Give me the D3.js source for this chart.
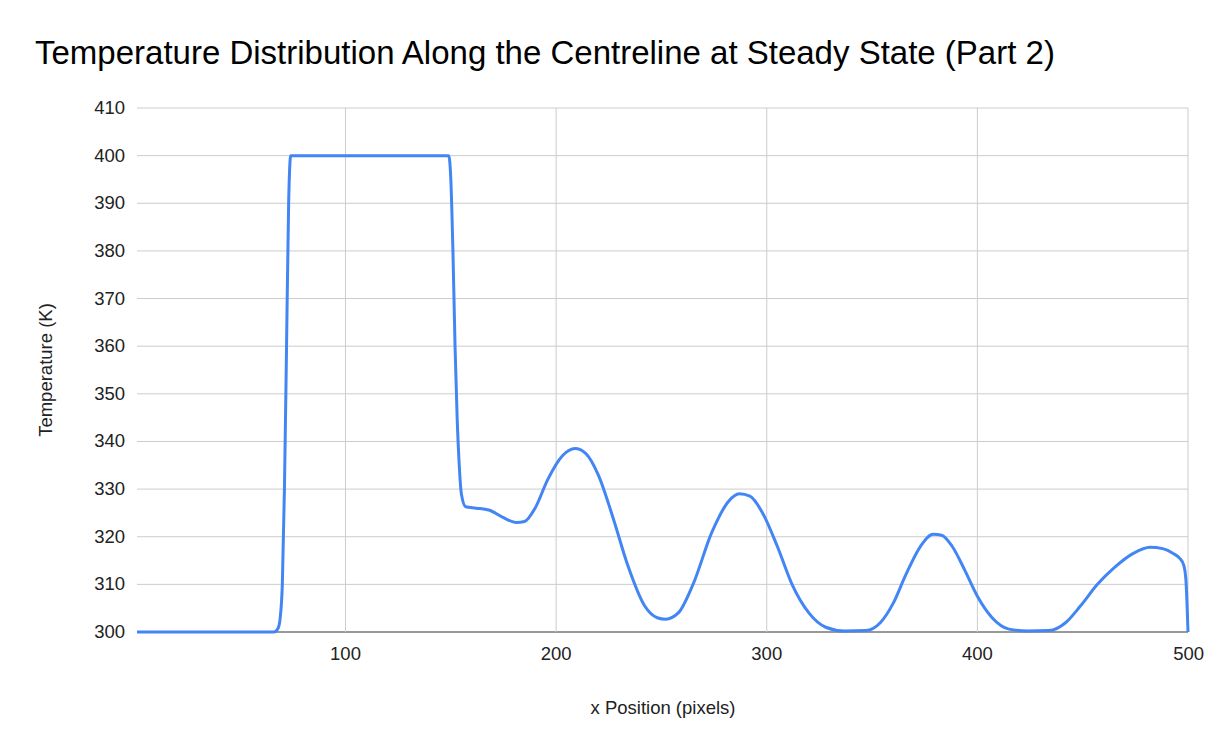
<!DOCTYPE html><html><head><script src="https://cdn.jsdelivr.net/npm/d3@7"></script>
<style>body{margin:0;background:#fff}text{font-family:"Liberation Sans",Arial,sans-serif}</style></head><body>
<svg width="1222" height="744"></svg>
<script>
const xs=[1,66,68,69,70,71,72,73,74,149,150,151,152,153,154,155,157,162,168,175,181,185,190,196,203,209,214,220,227,234,242,248,252,258,265,274,282,287,292,298,305,312,320,328,337,347,354,360,366,373,379,383,388,394,400,407,415,424,434,442,449,457,465,474,482,488,493,496,498,499,500];
const temps=[300,300,300.8,303,310,330,360,390,400,400,395,380,360,345,335,329,326.3,326,325.6,324,323,323.2,326,332,337,338.5,337.5,333,324,314,305.5,303,302.7,304,310,321,327.5,329,328.5,325,318,310,304,301,300.2,300.3,302,306,312,318,320.5,320.3,318,313,307.5,303,300.6,300.2,300.3,302,305.5,310,313.5,316.5,317.8,317.5,316.5,315.5,314,311,300];
const xTicks=[100,200,300,400,500];
const yTicks=d3.range(300,411,10);
const svg=d3.select("svg");
const x=d3.scaleLinear().domain([1,500]).range([137,1188]);
const y=d3.scaleLinear().domain([300,410]).range([632,108]);
const g=svg.append("g");
g.selectAll(".hy").data(yTicks).join("line").attr("x1",137).attr("x2",1188).attr("y1",d=>y(d)).attr("y2",d=>y(d)).attr("stroke",d=>d==300?"#333":"#ccc").attr("stroke-width",1);
g.selectAll(".vx").data(xTicks).join("line").attr("y1",108).attr("y2",632).attr("x1",d=>x(d)).attr("x2",d=>x(d)).attr("stroke","#ccc");
g.selectAll(".yl").data(yTicks).join("text").attr("x",125).attr("y",d=>y(d)+6).attr("text-anchor","end").attr("font-size",18.5).attr("fill","#222").text(d=>d);
g.selectAll(".xl").data(xTicks).join("text").attr("x",d=>x(d)).attr("y",660).attr("text-anchor",d=>d==500?"end":"middle").attr("dx",d=>d==500?16:0).attr("font-size",18.5).attr("fill","#222").text(d=>d);
svg.append("path").datum(xs.map((v,i)=>[v,temps[i]])).attr("fill","none").attr("stroke","#4285f4").attr("stroke-width",3)
 .attr("d",d3.line().x(d=>x(d[0])).y(d=>y(d[1])).curve(d3.curveMonotoneX));
svg.append("text").attr("x",35).attr("y",64).attr("font-size",33).attr("fill","#000").text("Temperature Distribution Along the Centreline at Steady State (Part 2)");
svg.append("text").attr("x",663).attr("y",714).attr("text-anchor","middle").attr("font-size",18.5).attr("fill","#222").text("x Position (pixels)");
svg.append("text").attr("transform","translate(52,370) rotate(-90)").attr("text-anchor","middle").attr("font-size",18.5).attr("fill","#222").text("Temperature (K)");
</script></body></html>
